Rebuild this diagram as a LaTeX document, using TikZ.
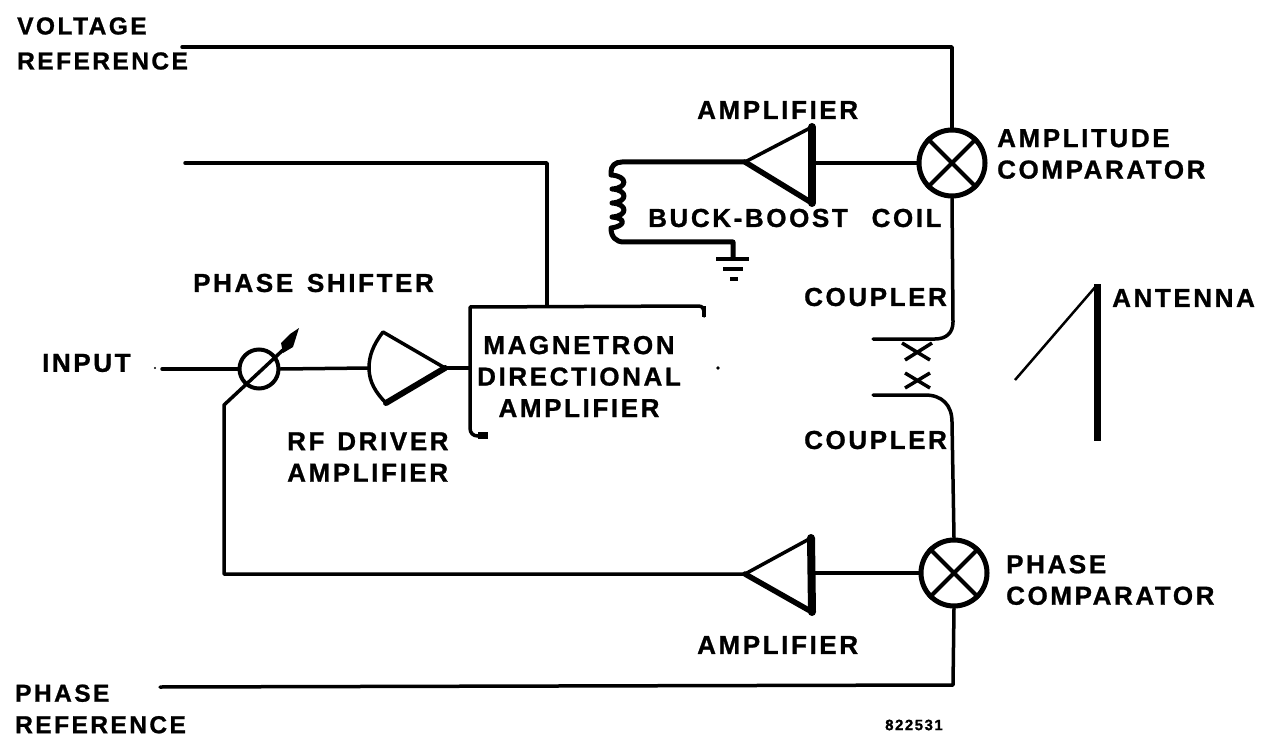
\documentclass[tikz,border=0pt]{standalone}
\usepackage{fontspec}
\setmainfont{Liberation Sans Bold}[LetterSpace=10,FakeBold=1]
\usetikzlibrary{calc}
\tikzset{
  x=1pt,y=-1pt,
  wire/.style={line width=3.5pt,line join=round,line cap=round},
  heavy/.style={line width=8pt,line cap=round},
  mixer/.style={circle,draw,line width=5pt,minimum size=66pt,inner sep=0pt},
  lab/.style={inner sep=0pt,align=left,anchor=west,font=\fontsize{26}{31.5}\selectfont},
  labs/.style={lab,font=\fontsize{24.5}{31.5}\selectfont},
  labc/.style={lab,align=center,anchor=center},
}
\begin{document}
\begin{tikzpicture}
\useasboundingbox[fill=white] (0,0) rectangle (1261,738);
% comparators
\node[mixer] (ac) at (952,163) {};
\node[mixer] (pc) at (954,573) {};
\node[circle,draw,line width=4pt,minimum size=39pt,inner sep=0pt] (ps) at (259,369) {};
\draw[line width=4pt] (ac.45)--(ac.225) (ac.135)--(ac.315) (pc.45)--(pc.225) (pc.135)--(pc.315);
% named points
\coordinate (vr) at (182,47);
\coordinate (vrc) at (952,47);
\coordinate (c1) at (873,339);
\coordinate (c2) at (873,395);
\coordinate (pr) at (160,687);
\coordinate (prc) at (953,685);
\coordinate (in) at (162,369);
% upper amplifier
\coordinate (at) at (745,162);
\coordinate (ab1) at (812,127);
\coordinate (ab2) at (812,203);
\coordinate (abm) at (812,163);
\draw[wire] (ab1)--(at);
\draw[line width=5.5pt,line cap=round] (at)--(ab2);
\draw[heavy] (ab1)--(ab2);
% lower amplifier
\coordinate (bt) at (745,574);
\coordinate (bb1) at (811,538);
\coordinate (bb2) at (812,612);
\coordinate (bbm) at (812,573);
\draw[wire] (bb1)--(bt);
\draw[line width=5.5pt,line cap=round] (bt)--(bb2);
\draw[heavy] (bb1)--(bb2);
% driver amplifier
\coordinate (dt) at (445,368);
\coordinate (dtop) at (383,332);
\coordinate (dbot) at (386,403);
\coordinate (dl) at (369,368);
\draw[wire] (dt)--(dtop) .. controls (373,345) and (369,356) .. (dl) .. controls (369,382) and (376,393) .. (dbot);
\draw[line width=6pt,line cap=round] (dbot)--(dt);
% magnetron box
\coordinate (mtop) at (547,306);
\coordinate (min) at (470,368);
\draw[wire] (704,316)--(704,311) .. controls (704,308) and (702,306) .. (698,306) -- (470,307) -- (470,428) .. controls (470,433) and (473,436) .. (478,436) -- (486,436);
\fill (478,432) rectangle (488,439);
\fill (702,306) rectangle (706,317);
% wires
\draw[wire] (vr)--(vrc)--(ac.north);
\draw[wire] (ac.south)--(953,322) .. controls (953,333) and (946,339) .. (935,339) -- (c1);
\draw[wire] (c2)--(925,395) .. controls (942,395) and (952,405) .. (952,422) -- (pc.north);
\draw[wire] (pc.south)--(prc)--(pr);
\draw[wire] (abm)--(ac.west);
\draw[wire] (bbm)--(pc.west);
\draw[wire] (bt)--(224,574)--(224,405)--(283,350);
\draw[wire] (185,163)--(547,163)--(mtop);
\draw[wire] (in)--(ps.west);
\draw[wire] (ps.east)--(dl);
\draw[wire] (dt)--(min);
% phase arrow
\fill (299,328) -- (293,347) -- (283,353) -- (281,343) -- (290,334) -- cycle;
% coil and ground
\draw[line width=5pt,line cap=round,line join=round] (at)--(622,162) .. controls (615,162) and (611,166) .. (611,172) -- (611,175)
  .. controls (628,176) and (628,188) .. (612,189)
  .. controls (628,190) and (628,202) .. (612,203)
  .. controls (628,204) and (628,216) .. (612,217)
  .. controls (626,218) and (626,226) .. (611,228)
  .. controls (611,237) and (616,242) .. (624,242) -- (733,242) -- (733,258);
\draw[line width=4.5pt] (716,259)--(749,259);
\draw[line width=4pt] (723,269)--(743,269);
\draw[line width=4pt] (730,279)--(738,279);
% couplers
\draw[line width=3.5pt] (902,343)--(930,360) (932,343)--(905,360);
\draw[line width=3.5pt] (905,373)--(930,388) (930,373)--(905,388);
% antenna
\draw[line width=2.5pt] (1015,380)--(1097,285);
\draw[line width=7pt] (1097,284)--(1097,441);
% specks
\fill (155,368) circle (1.2pt) (718,368) circle (1.8pt);
% labels
\node[labs] (t1) at (17,43.5) {VOLTAGE\\[3.5pt]REFERENCE};
\node[labs] (t2) at (15,709) {PHASE\\REFERENCE};
\node[lab] (t3) at (193,283) {PHASE\hspace{4pt} SHIFTER};
\node[lab] (t4) at (42,363) {INPUT};
\node[lab] (t5) at (287,457) {RF\hspace{3pt} DRIVER\\AMPLIFIER};
\node[labc] (t6) at (579,376.5) {MAGNETRON\\DIRECTIONAL\\AMPLIFIER};
\node[lab] (t7) at (697,110) {AMPLIFIER};
\node[lab] (t8) at (648,218) {BUCK-BOOST\hspace{14pt} COIL};
\node[lab] (t9) at (804,297) {COUPLER};
\node[lab] (t10) at (804,440) {COUPLER};
\node[lab] (t11) at (1112,298) {ANTENNA};
\node[lab] (t12) at (997,154) {AMPLITUDE\\COMPARATOR};
\node[lab] (t13) at (1006,580) {PHASE\\COMPARATOR};
\node[lab] (t14) at (697,645) {AMPLIFIER};
\node[inner sep=0pt,anchor=west,font=\fontsize{15}{15}\selectfont] (t15) at (885,725) {822531};
\end{tikzpicture}
\end{document}
